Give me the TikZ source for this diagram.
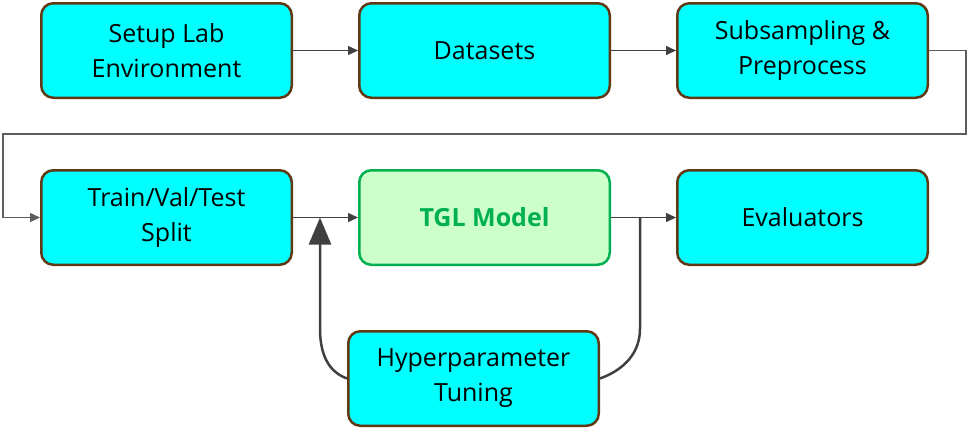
\documentclass[tikz,border=0pt]{standalone}
\usepackage{fontspec}
\setmainfont{Open Sans}
\usetikzlibrary{arrows.meta, positioning, calc}
\definecolor{cyanfyll}{HTML}{00FFFF}
\definecolor{brunkant}{HTML}{603813}
\definecolor{gronnfyll}{HTML}{CCFFCC}
\definecolor{gronnkant}{HTML}{00B050}
\definecolor{pilgraa}{HTML}{404040}

\begin{document}
\begin{tikzpicture}[
    node distance = 70pt and 65pt,
    fase/.style = {rectangle, rounded corners=12pt, draw=brunkant, fill=cyanfyll,
                   line width=2.5pt, minimum width=250.5pt, minimum height=94.5pt,
                   inner sep=0pt, align=center, font=\fontsize{25}{35}\selectfont},
    modell/.style = {fase, draw=gronnkant, fill=gronnfyll, text=gronnkant,
                     font=\fontsize{25}{35}\selectfont\bfseries},
    pil/.style = {pilgraa, line width=1.5pt, -{Triangle[length=10pt, width=9pt]}},
    krok/.style = {pilgraa, line width=2.5pt},
    ]
  \useasboundingbox (0,0) rectangle (969pt,-432pt);

  \node[fase] (setup) at (166.5pt,-50.5pt) {Setup Lab\\Environment} ;
  \node[fase] (data) [right=of setup] {Datasets} ;
  \node[fase] (sub) [right=of data] {Subsampling \&\\Preprocess} ;

  \node[fase] (split) [below=of setup] {Train/Val/Test\\Split} ;
  \node[modell] (tgl) [right=of split] {TGL Model} ;
  \node[fase] (eval) [right=of tgl] {Evaluators} ;

  \node[fase] (hyper) [below=64pt of tgl, xshift=-11pt] {Hyperparameter\\Tuning} ;

  \coordinate (midt) at ($(setup.south)!0.5!(split.north)$) ;
  \coordinate (inn) at ($(split.east)+(27pt,0)$) ;
  \coordinate (ut) at ($(tgl.east)+(29pt,0)$) ;

  \draw[pil]
  (setup) edge (data)
  (data) edge (sub)
  (split) edge (tgl)
  (tgl) edge (eval) ;

  \draw[pil, line width=1.2pt, pilgraa!85]
  (sub.east) -- ++(37pt,0) |- ($(split.west |- midt)+(-37pt,0)$) |- (split.west) ;

  % tuning loop
  \draw[krok, -{Triangle[length=27pt, width=22pt]}]
  (hyper.west) to[out=160, in=-90] ($(inn |- hyper.west)+(0,50pt)$) -- (inn) ;
  \draw[krok]
  (hyper.east) to[out=20, in=-90] ($(ut |- hyper.east)+(0,50pt)$) -- (ut) ;
\end{tikzpicture}
\end{document}
